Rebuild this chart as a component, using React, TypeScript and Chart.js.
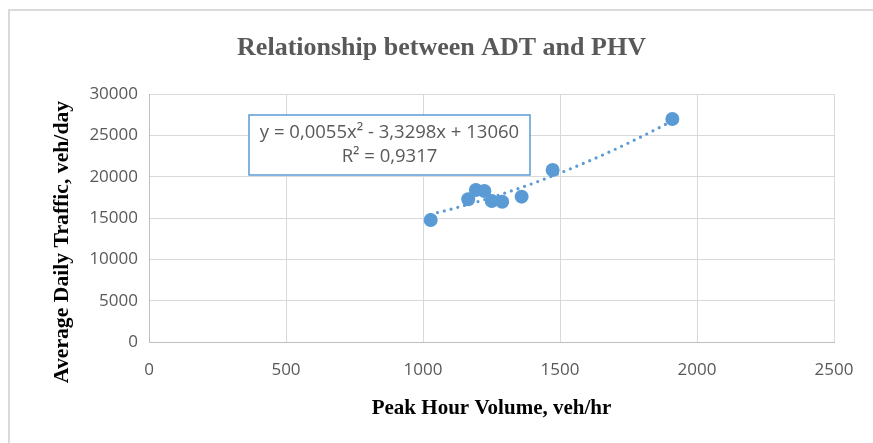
import React, { useEffect, useRef } from "react";
import { Chart, registerables } from "chart.js";

Chart.register(...registerables);

// Data
const phv: number[] = [1028, 1165, 1193, 1224, 1251, 1289, 1360, 1473, 1910];
const adt: number[] = [14760, 17260, 18390, 18270, 17060, 16970, 17580, 20810, 26980];

// Trendline (polynomial, order 2) as displayed on the chart
const trendA = 0.0055;
const trendB = -3.3298;
const trendC = 13060;
const equationLines: string[] = ["y = 0,0055x\u00B2 - 3,3298x + 13060", "R\u00B2 = 0,9317"];

const xTicks: number[] = [0, 500, 1000, 1500, 2000, 2500];
const yTicks: number[] = [0, 5000, 10000, 15000, 20000, 25000, 30000];

const titleText = "Relationship between ADT and PHV";
const xTitle = "Peak Hour Volume, veh/hr";
const yTitle = "Average Daily Traffic, veh/day";

const BLUE = "#5B9BD5";
const GREY_TEXT = "#595959";
const GRID = "#D9D9D9";

export default function App() {
  const ref = useRef<HTMLCanvasElement | null>(null);

  useEffect(() => {
    if (!ref.current) return;
    const xMin = Math.min(...phv);
    const xMax = Math.max(...phv);
    const steps = 60;
    const trend: { x: number; y: number }[] = [];
    for (let i = 0; i <= steps; i++) {
      const x = xMin + ((xMax - xMin) * i) / steps;
      trend.push({ x, y: trendA * x * x + trendB * x + trendC });
    }

    const framePlugin = {
      id: "frame",
      beforeDraw(chart: any) {
        const ctx = chart.ctx;
        ctx.save();
        ctx.fillStyle = "#ffffff";
        ctx.fillRect(0, 0, chart.width, chart.height);
        ctx.strokeStyle = GRID;
        ctx.lineWidth = 2;
        ctx.beginPath();
        ctx.moveTo(9, chart.height + 5);
        ctx.lineTo(9, 10);
        ctx.lineTo(chart.width + 5, 10);
        ctx.stroke();
        ctx.restore();
      },
    };

    const yTitlePlugin = {
      id: "yTitle",
      afterDraw(chart: any) {
        const ctx = chart.ctx;
        const a = chart.chartArea;
        ctx.save();
        ctx.translate(62, a.bottom - 100);
        ctx.rotate(-Math.PI / 2);
        ctx.fillStyle = "#000000";
        ctx.font = "bold 21.7px 'Liberation Serif'";
        ctx.textAlign = "center";
        ctx.textBaseline = "middle";
        ctx.fillText(yTitle, 0, 0);
        ctx.restore();
      },
    };

    const equationPlugin = {
      id: "equation",
      afterDatasetsDraw(chart: any) {
        const ctx = chart.ctx;
        const a = chart.chartArea;
        const left = a.left + 100;
        const top = a.top + 21;
        const w = 281;
        const h = 60;
        ctx.save();
        ctx.fillStyle = "#ffffff";
        ctx.fillRect(left, top, w, h);
        ctx.strokeStyle = BLUE;
        ctx.lineWidth = 1.5;
        ctx.strokeRect(left, top, w, h);
        ctx.fillStyle = GREY_TEXT;
        ctx.font = "18.5px 'Open Sans'";
        ctx.textAlign = "center";
        ctx.textBaseline = "middle";
        ctx.fillText(equationLines[0], left + w / 2, top + 18);
        ctx.fillText(equationLines[1], left + w / 2, top + 42);
        ctx.restore();
      },
    };

    const plain = (v: any) => String(v);

    const chart = new Chart(ref.current, {
      type: "scatter",
      data: {
        datasets: [
          {
            label: "ADT",
            data: phv.map((x, i) => ({ x, y: adt[i] })),
            backgroundColor: BLUE,
            borderColor: BLUE,
            pointRadius: 7,
            pointHoverRadius: 7,
            borderWidth: 0,
            order: 0,
          },
          {
            type: "line",
            label: "Trend",
            data: trend,
            borderColor: BLUE,
            borderWidth: 3.2,
            borderDash: [0, 7],
            borderCapStyle: "round",
            pointRadius: 0,
            showLine: true,
            fill: false,
            tension: 0,
            order: 1,
          } as any,
        ],
      },
      options: {
        animation: false,
        responsive: false,
        maintainAspectRatio: false,
        layout: { padding: { left: 49, right: 39, top: 0, bottom: 22 } },
        plugins: {
          legend: { display: false },
          tooltip: { enabled: false },
          title: {
            display: true,
            text: titleText,
            color: GREY_TEXT,
            font: { family: "'Liberation Serif'", size: 26, weight: "bold", lineHeight: 1.2 },
            padding: { top: 33, bottom: 29.8 },
          },
        },
        scales: {
          x: {
            type: "linear",
            min: 0,
            max: 2500,
            afterBuildTicks: (s: any) => {
              s.ticks = xTicks.map((v) => ({ value: v }));
            },
            afterFit: (s: any) => {
              s.height = 79;
            },
            grid: { color: GRID, lineWidth: 1, drawTicks: false },
            border: { color: "#BFBFBF", width: 1 },
            ticks: {
              color: GREY_TEXT,
              font: { family: "'Open Sans'", size: 17 },
              padding: 18,
              callback: plain,
            },
            title: {
              display: true,
              text: xTitle,
              color: "#000000",
              font: { family: "'Liberation Serif'", size: 21, weight: "bold", lineHeight: 1.2 },
              padding: { top: 0, bottom: 0 },
            },
          },
          y: {
            type: "linear",
            min: 0,
            max: 30000,
            afterBuildTicks: (s: any) => {
              s.ticks = yTicks.map((v) => ({ value: v }));
            },
            afterFit: (s: any) => {
              s.width = 100;
            },
            grid: { color: GRID, lineWidth: 1, drawTicks: false },
            border: { color: "#BFBFBF", width: 1 },
            ticks: {
              color: GREY_TEXT,
              font: { family: "'Open Sans'", size: 17 },
              padding: 11,
              callback: plain,
            },
            title: { display: false },
          },
        },
      },
      plugins: [framePlugin, equationPlugin, yTitlePlugin],
    } as any);

    return () => chart.destroy();
  }, []);

  return (
    <div style={{ position: "fixed", left: 0, top: 0, width: 873, height: 443, background: "#fff" }}>
      <canvas ref={ref} width={873} height={443} style={{ display: "block", width: 873, height: 443 }} />
    </div>
  );
}
